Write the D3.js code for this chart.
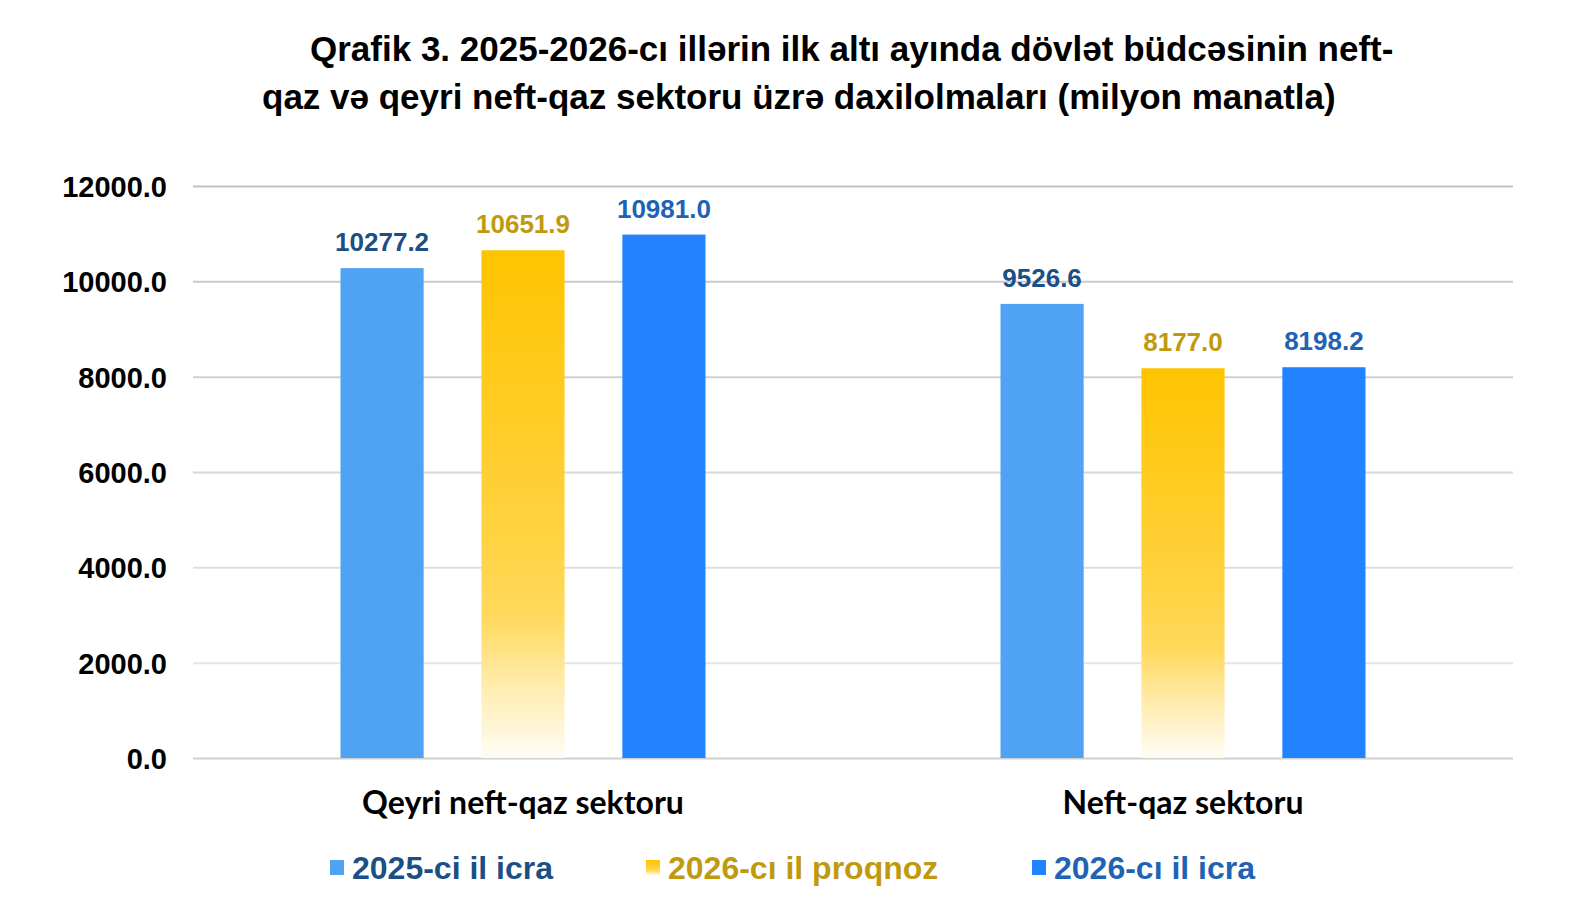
<!DOCTYPE html>
<html>
<head>
<meta charset="utf-8">
<script src="https://cdn.jsdelivr.net/npm/d3@7"></script>
<style>
  body { margin: 0; background: #fff; }
  svg { display: block; }
</style>
</head>
<body>
<div id="chart"></div>
<script>
  // data
  var categories = ["Qeyri neft-qaz sektoru", "Neft-qaz sektoru"];
  var seriesNames = ["2025-ci il icra", "2026-cı il proqnoz", "2026-cı il icra"];
  var values2025 = [10277.2, 9526.6];
  var forecast2026 = [10651.9, 8177.0];
  var actual2026 = [10981.0, 8198.2];
  var yTicks = [0, 2000, 4000, 6000, 8000, 10000, 12000];
  var titleLines = [
    "Qrafik 3. 2025-2026-cı illərin ilk altı ayında dövlət büdcəsinin neft-",
    "qaz və qeyri neft-qaz sektoru üzrə daxilolmaları (milyon manatla)"
  ];

  var W = 1579, H = 918;
  var margin = {left: 193, right: 66, top: 186, bottom: 160};
  var barFill = ["#4fa3f2", "url(#yellowGrad)", "#2383ff"];
  var labelColor = ["#1c4f86", "#c09a0e", "#1e63b4"];

  var svg = d3.select("#chart").append("svg").attr("width", W).attr("height", H);

  var defs = svg.append("defs");
  var grad = defs.append("linearGradient").attr("id", "yellowGrad")
    .attr("x1", 0).attr("y1", 0).attr("x2", 0).attr("y2", 1);
  [[0, "#ffc400"], [0.55, "#ffd23f"], [0.72, "#ffd95c"], [0.86, "#ffecae"], [1, "#fffdf6"]]
    .forEach(function(s) { grad.append("stop").attr("offset", s[0]).attr("stop-color", s[1]); });

  var x0 = d3.scaleBand().domain(categories).range([margin.left, W - margin.right]);
  var x1 = d3.scaleBand().domain(d3.range(3)).range([147.5, x0.bandwidth() - 147.5]).paddingInner(0.41);
  var y = d3.scaleLinear().domain([0, 12000]).range([H - margin.bottom, margin.top]);

  // gridlines, darker at the top
  var gridColor = d3.scaleLinear().domain([12000, 0]).range(["#c2c2c2", "#ececec"]);
  svg.append("g").selectAll("line").data(yTicks).enter().append("line")
    .attr("x1", margin.left).attr("x2", W - margin.right)
    .attr("y1", function(d) { return y(d) + 0.5; }).attr("y2", function(d) { return y(d) + 0.5; })
    .attr("stroke", function(d) { return d === 0 ? "#d0d0d0" : gridColor(d); })
    .attr("stroke-width", 2);

  var yAxis = svg.append("g").attr("transform", "translate(" + (margin.left - 26) + ",0)")
    .call(d3.axisLeft(y).tickValues(yTicks).tickFormat(d3.format(".1f")).tickSize(0).tickPadding(0));
  yAxis.select(".domain").remove();
  yAxis.selectAll("text")
    .attr("font-family", "Liberation Sans, Arial, sans-serif")
    .attr("font-weight", "bold").attr("font-size", 29).attr("fill", "#000").attr("dy", "0.36em");

  var rows = categories.map(function(c, i) {
    return {cat: c, vals: [values2025[i], forecast2026[i], actual2026[i]]};
  });

  var groups = svg.selectAll("g.grp").data(rows).enter().append("g")
    .attr("class", "grp")
    .attr("transform", function(d) { return "translate(" + x0(d.cat) + ",0)"; });

  groups.selectAll("rect").data(function(d) { return d.vals; }).enter().append("rect")
    .attr("x", function(d, i) { return x1(i); })
    .attr("width", x1.bandwidth())
    .attr("y", function(d) { return y(d); })
    .attr("height", function(d) { return y(0) - y(d); })
    .attr("fill", function(d, i) { return barFill[i]; });

  groups.selectAll("text.val").data(function(d) { return d.vals; }).enter().append("text")
    .attr("class", "val")
    .attr("x", function(d, i) { return x1(i) + x1.bandwidth() / 2; })
    .attr("y", function(d) { return y(d) - 17; })
    .attr("text-anchor", "middle")
    .attr("font-family", "Liberation Sans, Arial, sans-serif")
    .attr("font-weight", "bold").attr("font-size", 26)
    .attr("fill", function(d, i) { return labelColor[i]; })
    .text(function(d) { return d3.format(".1f")(d); });

  // category labels
  svg.selectAll("text.cat").data(categories).enter().append("text")
    .attr("class", "cat")
    .attr("x", function(d) { return x0(d) + x0.bandwidth() / 2; })
    .attr("y", 814)
    .attr("text-anchor", "middle")
    .attr("font-family", "Lato, Open Sans, sans-serif")
    .attr("font-weight", "bold").attr("font-size", 32).attr("fill", "#000")
    .text(function(d) { return d; });

  // legend
  var legendX = [330, 646, 1032];
  var leg = svg.selectAll("g.leg").data(seriesNames).enter().append("g")
    .attr("class", "leg")
    .attr("transform", function(d, i) { return "translate(" + legendX[i] + ",868)"; });
  leg.append("rect").attr("x", 0).attr("y", -8).attr("width", 14).attr("height", 15)
    .attr("fill", function(d, i) { return barFill[i]; });
  leg.append("text").attr("x", 22).attr("y", 11)
    .attr("font-family", "Liberation Sans, Arial, sans-serif")
    .attr("font-weight", "bold").attr("font-size", 32)
    .attr("fill", function(d, i) { return labelColor[i]; })
    .text(function(d) { return d; });

  // title
  var titleX = [310, 262];
  svg.selectAll("text.title").data(titleLines).enter().append("text")
    .attr("class", "title")
    .attr("x", function(d, i) { return titleX[i]; })
    .attr("y", function(d, i) { return 61 + i * 48; })
    .attr("font-family", "Liberation Sans, Arial, sans-serif")
    .attr("font-weight", "bold").attr("font-size", 35).attr("fill", "#000")
    .text(function(d) { return d; });
</script>
</body>
</html>
